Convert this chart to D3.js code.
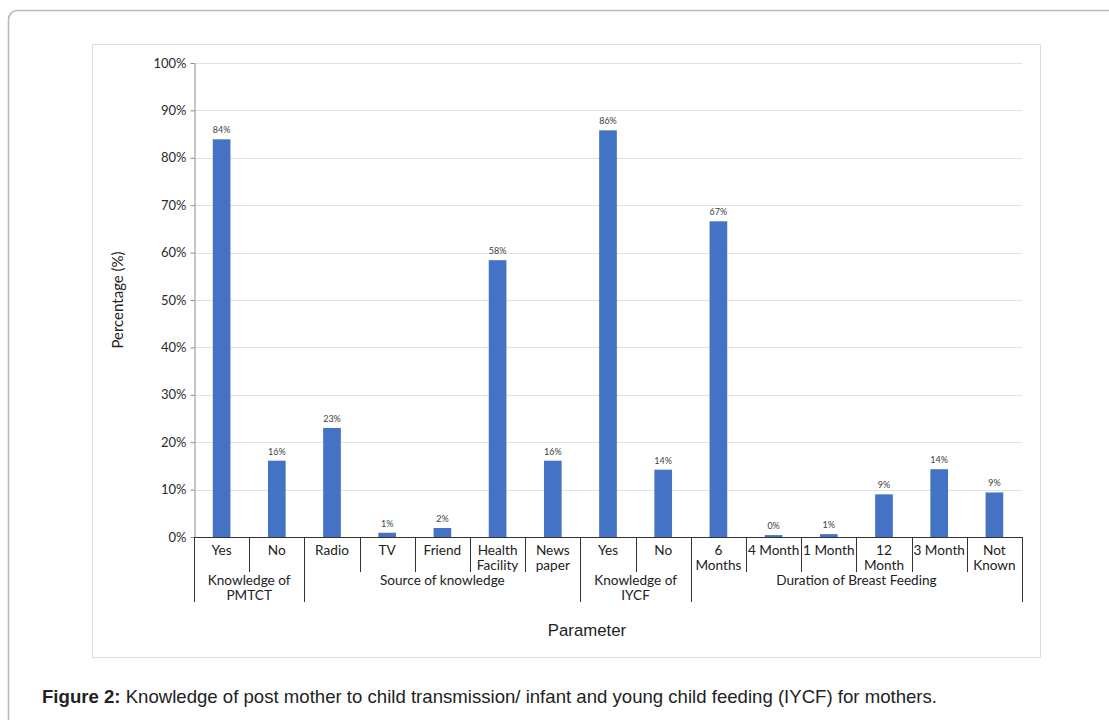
<!DOCTYPE html>
<html>
<head>
<meta charset="utf-8">
<script src="https://cdn.jsdelivr.net/npm/d3@7"></script>
<style>
  html, body { margin: 0; padding: 0; background: #fff; }
  svg { display: block; }
</style>
</head>
<body>
<svg id="chart" width="1109" height="720"></svg>
<script>
// Response categories (one label line per entry)
const categories = [
  ["Yes"], ["No"],
  ["Radio"], ["TV"], ["Friend"], ["Health", "Facility"], ["News", "paper"],
  ["Yes"], ["No"],
  ["6", "Months"], ["4 Month"], ["1 Month"], ["12", "Month"], ["3 Month"], ["Not", "Known"]
];
// Group index of each category
const groupOf = [0, 0, 1, 1, 1, 1, 1, 2, 2, 3, 3, 3, 3, 3, 3];
const groups = [
  ["Knowledge of", "PMTCT"],
  ["Source of knowledge"],
  ["Knowledge of", "IYCF"],
  ["Duration of Breast Feeding"]
];
// Share of mothers per response
const values = [0.839, 0.161, 0.230, 0.009, 0.019, 0.584, 0.161, 0.858, 0.142, 0.666, 0.004, 0.006, 0.090, 0.143, 0.094];
const yTicks = [0, 0.1, 0.2, 0.3, 0.4, 0.5, 0.6, 0.7, 0.8, 0.9, 1.0];

const svg = d3.select("#chart");
const font = "Lato, 'Open Sans', sans-serif";

// Outer rounded frame (runs off the right and bottom edges)
svg.append("rect")
  .attr("x", 8.5).attr("y", 10.5)
  .attr("width", 1120).attr("height", 740)
  .attr("rx", 9)
  .attr("fill", "none").attr("stroke", "#b8b8b8").attr("stroke-width", 1.5);

// Chart panel border
svg.append("rect")
  .attr("x", 92.5).attr("y", 44.5)
  .attr("width", 948).attr("height", 613)
  .attr("fill", "#fff").attr("stroke", "#dedede").attr("stroke-width", 1);

const plotL = 194, plotR = 1022, plotT = 63, plotB = 537;

const x = d3.scaleBand()
  .domain(d3.range(categories.length))
  .range([plotL, plotR])
  .padding(0);

const y = d3.scaleLinear().domain([0, 1]).range([plotB, plotT]);

// Horizontal gridlines
svg.append("g")
  .selectAll("line")
  .data(yTicks.filter(d => d > 0))
  .join("line")
  .attr("x1", plotL).attr("x2", plotR)
  .attr("y1", d => Math.round(y(d)) + 0.5).attr("y2", d => Math.round(y(d)) + 0.5)
  .attr("stroke", "#e2e2e2").attr("stroke-width", 1);

// Y axis
const yAxis = svg.append("g")
  .attr("transform", `translate(${plotL + 0.5},0)`)
  .call(d3.axisLeft(y).tickValues(yTicks).tickFormat(d3.format(".0%")).tickSize(4).tickSizeOuter(0));
yAxis.select(".domain").attr("stroke", "#8c8c8c");
yAxis.selectAll(".tick line").attr("stroke", "#8c8c8c");
yAxis.selectAll(".tick text")
  .attr("font-family", font).attr("font-size", 13).attr("fill", "#2a2a2a").attr("x", -8);

// Bars
const barW = x.bandwidth() * 0.32;
svg.append("g")
  .selectAll("rect")
  .data(values)
  .join("rect")
  .attr("x", (d, i) => x(i) + (x.bandwidth() - barW) / 2)
  .attr("y", d => y(d))
  .attr("width", barW)
  .attr("height", d => plotB - y(d))
  .attr("fill", "#4472c4");

// Value labels
svg.append("g")
  .selectAll("text")
  .data(values)
  .join("text")
  .attr("x", (d, i) => x(i) + x.bandwidth() / 2)
  .attr("y", d => y(d) - 6)
  .attr("text-anchor", "middle")
  .attr("font-family", font).attr("font-size", 9)
  .attr("fill", "#404040")
  .text(d => d3.format(".0%")(d));

// X baseline
svg.append("line")
  .attr("x1", plotL).attr("x2", plotR)
  .attr("y1", plotB + 0.5).attr("y2", plotB + 0.5)
  .attr("stroke", "#333").attr("stroke-width", 1);

// Category separators: short inside a group, long at group boundaries
const bounds = d3.range(categories.length + 1);
svg.append("g")
  .selectAll("line")
  .data(bounds)
  .join("line")
  .attr("x1", i => Math.round(i < categories.length ? x(i) : plotR) + 0.5)
  .attr("x2", i => Math.round(i < categories.length ? x(i) : plotR) + 0.5)
  .attr("y1", plotB)
  .attr("y2", i => (i === 0 || i === categories.length || groupOf[i] !== groupOf[i - 1]) ? 602 : 572)
  .attr("stroke", "#333").attr("stroke-width", 1);

// Category labels
const catText = svg.append("g")
  .selectAll("text")
  .data(categories)
  .join("text")
  .attr("text-anchor", "middle")
  .attr("font-family", font).attr("font-size", 13.6).attr("fill", "#222");
catText.selectAll("tspan")
  .data((d, i) => d.map(line => ({ line, i })))
  .join("tspan")
  .attr("x", d => x(d.i) + x.bandwidth() / 2)
  .attr("y", (d, k) => 555 + k * 14.5)
  .text(d => d.line);

// Group labels
const groupExtent = groups.map((g, gi) => {
  const idx = groupOf.map((v, i) => v === gi ? i : -1).filter(i => i >= 0);
  return [x(idx[0]), x(idx[idx.length - 1]) + x.bandwidth()];
});
const grpText = svg.append("g")
  .selectAll("text")
  .data(groups)
  .join("text")
  .attr("text-anchor", "middle")
  .attr("font-family", font).attr("font-size", 13.6).attr("fill", "#222");
grpText.selectAll("tspan")
  .data((d, gi) => d.map(line => ({ line, gi })))
  .join("tspan")
  .attr("x", d => (groupExtent[d.gi][0] + groupExtent[d.gi][1]) / 2)
  .attr("y", (d, k) => 584.5 + k * 15.5)
  .text(d => d.line);

// Axis titles
svg.append("text")
  .attr("transform", `translate(123,${(plotT + plotB) / 2}) rotate(-90)`)
  .attr("text-anchor", "middle")
  .attr("font-family", font).attr("font-size", 15).attr("fill", "#222")
  .text("Percentage (%)");

svg.append("text")
  .attr("x", 587).attr("y", 636)
  .attr("text-anchor", "middle")
  .attr("font-family", "'Liberation Sans', Arial, sans-serif").attr("font-size", 16.8).attr("fill", "#222")
  .text("Parameter");

// Figure caption
const cap = svg.append("text")
  .attr("x", 42).attr("y", 703)
  .attr("font-family", "'Liberation Sans', Arial, sans-serif").attr("font-size", 18.6).attr("fill", "#222");
cap.append("tspan").attr("font-weight", "bold").text("Figure 2:");
cap.append("tspan").text(" Knowledge of post mother to child transmission/ infant and young child feeding (IYCF) for mothers.");
</script>
</body>
</html>
